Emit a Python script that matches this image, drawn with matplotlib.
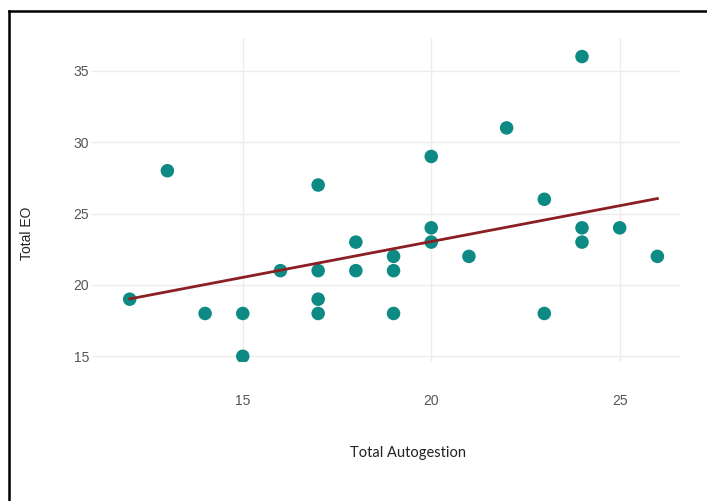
import numpy as np
import matplotlib
matplotlib.use("Agg")
import matplotlib.pyplot as plt
from matplotlib.lines import Line2D

# Scores per participant
autogestion = [12, 13, 14, 15, 15, 16, 17, 17, 17, 17, 18, 18, 19, 19, 19,
               20, 20, 20, 21, 22, 23, 23, 24, 24, 24, 25, 26]
total_eo = [19, 28, 18, 18, 15, 21, 27, 21, 19, 18, 23, 21, 22, 21, 18,
            29, 24, 23, 22, 31, 26, 18, 36, 24, 23, 24, 22]

x_ticks = [15, 20, 25]
y_ticks = [15, 20, 25, 30, 35]

x = np.array(autogestion, dtype=float)
y = np.array(total_eo, dtype=float)
slope, intercept = np.polyfit(x, y, 1)

W, H = 707, 501
fig = plt.figure(figsize=(W / 100, H / 100), dpi=100)
fig.patch.set_facecolor("white")

ax = fig.add_axes([92 / W, 1 - 362 / H, (680 - 92) / W, (362 - 38) / H])
ax.set_xlim(11.0, 26.6)
ax.set_ylim(14.6, 37.3)

ax.set_xticks(x_ticks)
ax.set_yticks(y_ticks)
ax.grid(True, color="#ececec", linewidth=1.0)
ax.set_axisbelow(True)
for s in ax.spines.values():
    s.set_visible(False)
ax.tick_params(axis="both", length=0, colors="#555555", labelsize=10)
ax.tick_params(axis="x", pad=23)
ax.tick_params(axis="y", pad=2)
for lab in ax.get_xticklabels() + ax.get_yticklabels():
    lab.set_family("Liberation Sans")

ax.scatter(x, y, s=95, color="#0e8a84", edgecolors="none", zorder=3)

xs = np.array([x.min(), x.max()])
ax.plot(xs, intercept + slope * xs, color="#8b1f24", linewidth=2.0, zorder=4)

fig.text(408 / W, 1 - 453 / H, "Total Autogestion", ha="center", va="center",
         fontsize=10.5, family="Lato", color="#222222")
fig.text(27 / W, 1 - 233 / H, "Total EO", ha="center", va="center",
         rotation=90, fontsize=10, family="Liberation Sans", color="#222222")

# frame lines along the top and left edges
fig.add_artist(Line2D([9 / W, 1], [1 - 11 / H, 1 - 11 / H],
                      transform=fig.transFigure, color="black", linewidth=1.8))
fig.add_artist(Line2D([9 / W, 9 / W], [0, 1 - 11 / H],
                      transform=fig.transFigure, color="black", linewidth=1.8))

fig.savefig("out.png", dpi=100)
